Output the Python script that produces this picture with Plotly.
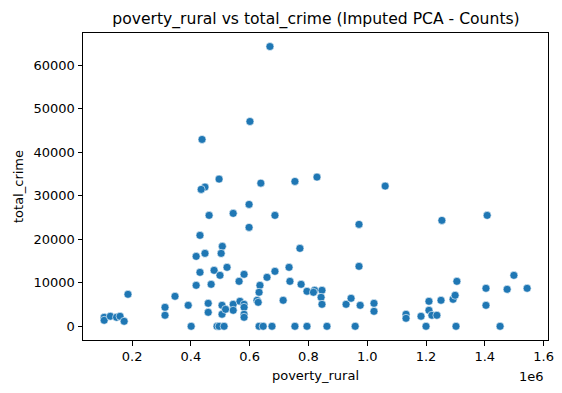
import plotly.graph_objects as go

poverty_rural = [
    669000, 601000, 438000, 496000, 448000, 638000, 754000, 435000, 829000, 1061000,
    598000, 462000, 544000, 686000, 598000, 431000, 507000, 503000, 448000, 418000,
    771000, 479000, 431000, 523000, 499000, 581000, 564000, 686000, 734000, 737000,
    659000, 775000, 795000, 418000, 469000, 635000, 632000, 186000, 346000, 714000,
    625000, 629000, 312000, 312000, 391000, 459000, 459000, 506000, 506000, 544000,
    544000, 518000, 567000, 581000, 581000, 581000, 581000, 105000, 105000, 126000,
    147000, 159000, 173000,
    401000, 489000, 496000, 513000, 632000, 646000, 676000, 754000, 795000,
    972000, 972000, 1254000, 1408000, 821000, 817000, 846000, 843000, 846000, 928000,
    945000, 976000, 1023000, 1023000, 1132000, 1132000, 1183000, 1210000, 1210000, 1220000,
    1237000, 1251000, 1292000, 1299000, 1305000, 1404000, 1404000, 1476000, 1499000, 1544000,
    863000, 959000, 1200000, 1302000, 1452000,
]
total_crime = [
    64290, 47070, 42940, 33820, 31990, 32900, 33290, 31460, 34280, 32220,
    28010, 25490, 25950, 25490, 22730, 20900, 18370, 16760, 16760, 16070,
    17910, 12860, 12400, 13550, 11710, 11940, 10330, 12630, 13550, 10330,
    11250, 9640, 8040, 9410, 9640, 9410, 7810, 7350, 6890, 5970,
    5970, 5510, 4360, 2530, 4820, 5280, 3210, 4820, 2760, 5050,
    3670, 3900, 5740, 5050, 4360, 2760, 2070, 2070, 1380, 2300,
    2070, 2300, 1150,
    0, 0, 0, 0, 0, 0, 0, 0, 0,
    23420, 13780, 24340, 25490, 8270, 7810, 8270, 6660, 5050, 5050,
    6430, 4820, 5280, 3440, 2760, 1840, 2300, 5740, 3670, 2530,
    2530, 5970, 6200, 7120, 10330, 8730, 4820, 8500, 11710, 8730,
    0, 0, 0, 0, 0,
]

x_tickvals = [200000, 400000, 600000, 800000, 1000000, 1200000, 1400000, 1600000]
x_ticktext = ["0.2", "0.4", "0.6", "0.8", "1.0", "1.2", "1.4", "1.6"]
y_tickvals = [0, 10000, 20000, 30000, 40000, 50000, 60000]
y_ticktext = ["0", "10000", "20000", "30000", "40000", "50000", "60000"]

fig = go.Figure()
fig.add_trace(go.Scatter(
    x=poverty_rural, y=total_crime, mode="markers",
    marker=dict(color="#1f77b4", size=8, line=dict(color="white", width=0.6)),
    showlegend=False,
))

# page body has an 8px margin, so the figure is 8px smaller than the window
W, H = 554, 385
L, R, T, B = 75, 14, 25, 53
font = "DejaVu Sans"
fig.update_layout(
    width=W, height=H,
    margin=dict(l=L, r=R, t=T, b=B, autoexpand=False),
    plot_bgcolor="white", paper_bgcolor="white",
    font=dict(family=font, color="black", size=13),
    title=dict(text="poverty_rural vs total_crime (Imputed PCA - Counts)",
               x=308 / W, xanchor="center", y=1 - 10.5 / H, yanchor="middle",
               font=dict(size=15.6, family=font, color="black")),
    xaxis=dict(range=[33000, 1615000], tickvals=x_tickvals, ticktext=x_ticktext,
               automargin=False,
               showgrid=False, zeroline=False, showline=True, linecolor="black", linewidth=1,
               mirror=True, ticks="outside", ticklen=4.5, tickcolor="black",
               tickfont=dict(size=13, family=font),
               title=dict(text="poverty_rural", font=dict(size=13, family=font), standoff=7)),
    yaxis=dict(range=[-3150, 67400], tickvals=y_tickvals, ticktext=y_ticktext,
               automargin=False,
               showgrid=False, zeroline=False, showline=True, linecolor="black", linewidth=1,
               mirror=True, ticks="outside", ticklen=4.5, tickcolor="black",
               tickfont=dict(size=13, family=font),
               title=dict(text="total_crime", font=dict(size=13, family=font), standoff=6)),
    annotations=[dict(text="1e6", xref="paper", yref="paper", x=0.996, y=-0.088,
                      xanchor="right", yanchor="top", showarrow=False,
                      font=dict(size=13, family=font))],
)

fig.write_html("out.html")
